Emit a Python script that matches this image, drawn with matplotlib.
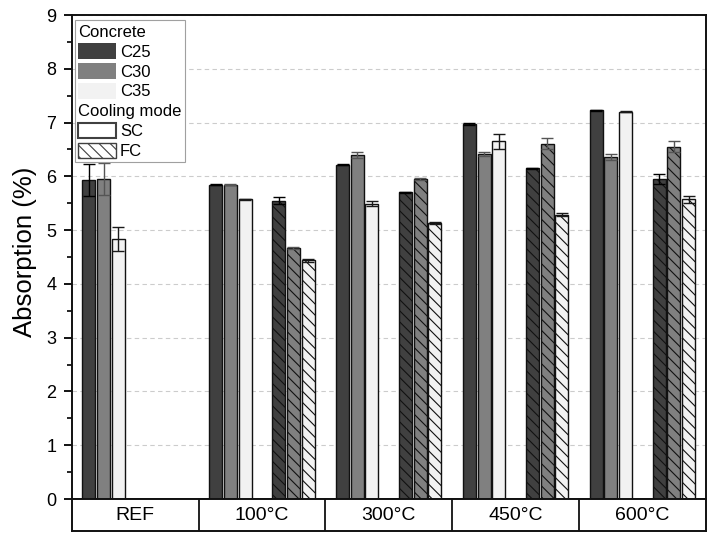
import matplotlib
matplotlib.use('Agg')
import matplotlib.pyplot as plt
from matplotlib.patches import Patch
from matplotlib.ticker import MultipleLocator
import numpy as np

plt.rcParams['font.family'] = ['Liberation Sans', 'DejaVu Sans']
plt.rcParams['hatch.linewidth'] = 0.8

categories = ['REF', '100°C', '300°C', '450°C', '600°C']
grades = ['C25', 'C30', 'C35']
grade_colors = ['#404040', '#808080', '#f2f2f2']
err_colors = ['#000000', '#555555', '#1a1a1a']

# Slow cooling (SC)
sc_c25 = [5.93, 5.84, 6.22, 6.97, 7.23]
sc_c30 = [5.95, 5.84, 6.40, 6.41, 6.36]
sc_c35 = [4.83, 5.57, 5.49, 6.65, 7.20]
sc_c25_err = [0.30, 0.01, 0.01, 0.02, 0.01]
sc_c30_err = [0.30, 0.01, 0.05, 0.04, 0.05]
sc_c35_err = [0.22, 0.01, 0.045, 0.14, 0.01]

# Fast cooling (FC) - no REF value
fc_c25 = [np.nan, 5.55, 5.70, 6.15, 5.95]
fc_c30 = [np.nan, 4.67, 5.95, 6.61, 6.55]
fc_c35 = [np.nan, 4.44, 5.13, 5.29, 5.57]
fc_c25_err = [0.0, 0.06, 0.01, 0.01, 0.10]
fc_c30_err = [0.0, 0.02, 0.01, 0.10, 0.10]
fc_c35_err = [0.0, 0.03, 0.02, 0.02, 0.06]

sc_vals = [sc_c25, sc_c30, sc_c35]
sc_errs = [sc_c25_err, sc_c30_err, sc_c35_err]
fc_vals = [fc_c25, fc_c30, fc_c35]
fc_errs = [fc_c25_err, fc_c30_err, fc_c35_err]

W, H = 709, 534
fig = plt.figure(figsize=(W / 100, H / 100), dpi=100)
ax = fig.add_axes([71.7 / W, (H - 499) / H, (706 - 71.7) / W, (499 - 15) / H])
axb = fig.add_axes([71.7 / W, (H - 531) / H, (706 - 71.7) / W, (531 - 499) / H])

x = np.arange(len(categories)) + 0.5
bw = 0.1025
sc_off = [-0.365, -0.249, -0.133]
fc_off = [0.131, 0.247, 0.363]

for j in range(3):
    ax.bar(x + sc_off[j], sc_vals[j], bw, color=grade_colors[j],
           edgecolor='#111111', linewidth=1.0, yerr=sc_errs[j],
           error_kw=dict(ecolor=err_colors[j], elinewidth=1.0, capsize=4, capthick=1.0),
           zorder=3)
    fv = np.array(fc_vals[j], dtype=float)
    fe = np.array(fc_errs[j], dtype=float)
    m = ~np.isnan(fv)
    ax.bar((x + fc_off[j])[m], fv[m], bw, color=grade_colors[j],
           edgecolor='#111111', linewidth=1.0, hatch='\\\\\\', yerr=fe[m],
           error_kw=dict(ecolor=err_colors[j], elinewidth=1.0, capsize=4, capthick=1.0),
           zorder=3)

ax.set_xlim(0, len(categories))
ax.set_ylim(0, 9)
ax.set_xticks([])
ax.yaxis.set_major_locator(MultipleLocator(1))
ax.yaxis.set_minor_locator(MultipleLocator(0.5))
ax.tick_params(axis='y', which='major', length=6, width=1.3, labelsize=13, pad=5, direction='out')
ax.tick_params(axis='y', which='minor', length=3.5, width=1.2, direction='out')
ax.grid(axis='y', which='major', linestyle=(0, (4, 3)), color='#cccccc', linewidth=0.8, zorder=0)
ax.set_axisbelow(True)
for s in ax.spines.values():
    s.set_linewidth(1.4)
    s.set_color('#111111')

ax.set_ylabel('Absorption (%)', fontsize=18.5)
ax.yaxis.set_label_coords(-0.054, 0.51)

# category boxes
axb.set_xlim(0, len(categories))
axb.set_ylim(0, 1)
axb.set_xticks(np.arange(1, len(categories)))
axb.set_xticklabels([])
axb.set_yticks([])
axb.tick_params(axis='x', length=0)
axb.grid(axis='x', color='#111111', linewidth=1.3)
for s in axb.spines.values():
    s.set_linewidth(1.4)
    s.set_color('#111111')
for i, c in enumerate(categories):
    axb.text(x[i], 0.5, c, ha='center', va='center', fontsize=14)

# legend
handles = [
    Patch(visible=False, label='Concrete'),
    Patch(facecolor=grade_colors[0], edgecolor='none', label='C25'),
    Patch(facecolor=grade_colors[1], edgecolor='none', label='C30'),
    Patch(facecolor=grade_colors[2], edgecolor='none', label='C35'),
    Patch(visible=False, label='Cooling mode'),
    Patch(facecolor='white', edgecolor='#404040', linewidth=1.5, label='SC'),
    Patch(facecolor='white', edgecolor='#404040', linewidth=1.0, hatch='\\\\\\', label='FC'),
]
leg = ax.legend(handles=handles, loc='upper left', bbox_to_anchor=(0.005, 0.99),
                borderaxespad=0, fontsize=12, frameon=True, fancybox=False,
                edgecolor='#a0a0a0', framealpha=1, handlelength=2.26,
                handleheight=1.08, handletextpad=0.25, labelspacing=0.2,
                borderpad=0.2)
leg.get_frame().set_linewidth(0.8)
title_labels = {'Concrete', 'Cooling mode'}
for col in leg._legend_handle_box.get_children():
    for row in col.get_children():
        hb, tb = row.get_children()
        if tb.get_text() in title_labels:
            hb.width = 0
            row.sep = 0

fig.savefig('out.png', dpi=100)
